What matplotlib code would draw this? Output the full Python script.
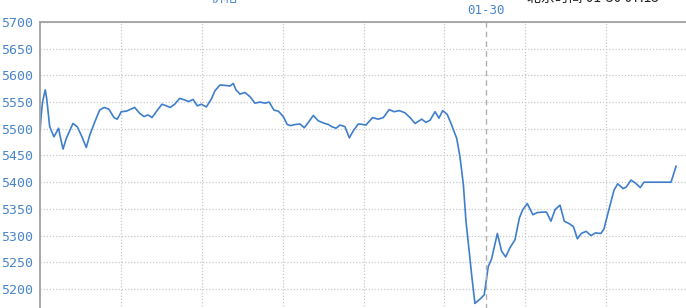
import matplotlib.pyplot as plt

# hours since chart start, price
hours = [0.0, 0.06, 0.13, 0.26, 0.33, 0.40, 0.48, 0.69, 0.92, 1.02,
         1.14, 1.30, 1.63, 1.84, 2.04, 2.29, 2.46, 2.71, 2.95, 3.17,
         3.40, 3.66, 3.82, 4.02, 4.27, 4.68, 4.93, 5.14, 5.34, 5.54,
         5.75, 6.03, 6.25, 6.44, 6.66, 6.91, 7.16, 7.35, 7.57, 7.78,
         7.98, 8.23, 8.49, 8.65, 8.90, 9.23, 9.40, 9.56, 9.69, 9.89,
         10.14, 10.39, 10.63, 10.88, 11.13, 11.34, 11.57, 11.79, 12.03, 12.23,
         12.40, 12.61, 12.86, 13.07, 13.27, 13.52, 13.76, 14.01, 14.26, 14.43,
         14.64, 14.84, 15.08, 15.30, 15.49, 15.74, 15.99, 16.12, 16.45, 16.73,
         16.98, 17.27, 17.51, 17.77, 18.05, 18.30, 18.55, 18.88, 19.09, 19.29,
         19.54, 19.73, 19.92, 20.14, 20.36, 20.61, 20.77, 20.94, 21.07, 21.23,
         21.35, 21.51, 21.76, 21.97, 22.17, 22.34, 22.62, 22.83, 23.03, 23.24,
         23.49, 23.71, 23.87, 24.10, 24.38, 24.58, 24.89, 25.05, 25.27, 25.48,
         25.72, 25.93, 26.19, 26.38, 26.58, 26.77, 27.01, 27.25, 27.47, 27.74,
         27.89, 28.14, 28.39, 28.57, 28.84, 29.00, 29.23, 29.46, 29.69, 29.87,
         30.40, 30.90, 31.21, 31.46]
price = [5495, 5526, 5551, 5573, 5557, 5532, 5504, 5485, 5501, 5482,
         5462, 5482, 5510, 5504, 5488, 5465, 5488, 5513, 5535, 5540,
         5537, 5521, 5518, 5532, 5533, 5540, 5529, 5523, 5526, 5521,
         5532, 5546, 5543, 5540, 5546, 5557, 5554, 5551, 5555, 5543,
         5546, 5541, 5557, 5571, 5582, 5581, 5580, 5585, 5573, 5565,
         5568, 5560, 5548, 5550, 5548, 5550, 5535, 5533, 5523, 5508,
         5506, 5508, 5509, 5502, 5512, 5525, 5515, 5511, 5508, 5504,
         5501, 5507, 5504, 5483, 5496, 5509, 5508, 5507, 5521, 5518,
         5521, 5536, 5532, 5534, 5530, 5521, 5510, 5518, 5512, 5516,
         5532, 5520, 5534, 5527, 5507, 5482, 5448, 5395, 5326, 5270,
         5226, 5173, 5181, 5189, 5242, 5257, 5304, 5271, 5260, 5277,
         5292, 5333, 5348, 5360, 5339, 5343, 5344, 5344, 5327, 5349,
         5357, 5327, 5322, 5317, 5294, 5304, 5308, 5300, 5305, 5304,
         5312, 5349, 5385, 5397, 5388, 5391, 5404, 5398, 5390, 5400,
         5400, 5400, 5400, 5430]

y_ticks = [5200, 5250, 5300, 5350, 5400, 5450, 5500, 5550, 5600, 5650, 5700]
x_grid = [4, 8, 12, 16, 20, 24, 28, 32]
day_mark = 22.06
day_label = '01-30'

blue = '#4a86c8'
fig = plt.figure(figsize=(6.86, 3.08), dpi=100)
ax = fig.add_axes([40 / 686, -0.025, 647 / 686, 0.9536])

ax.plot(hours, price, color='#3f7ecb', lw=1.2)

ax.set_xlim(0, 32)
ax.set_ylim(5150, 5700)
ax.set_yticks(y_ticks)
ax.set_xticks(x_grid)
ax.set_xticklabels([])
ax.tick_params(length=0, pad=5)
for lbl in ax.get_yticklabels():
    lbl.set_fontfamily('DejaVu Sans Mono')
    lbl.set_fontsize(9.5)
    lbl.set_color(blue)
ax.grid(True, color='#c8c8c8', linestyle=(0, (1, 1.5)), lw=0.9)

for s in ['right', 'bottom']:
    ax.spines[s].set_visible(False)
for s in ['left', 'top']:
    ax.spines[s].set_color('#a0a0a0')
    ax.spines[s].set_linewidth(1.3)

ax.axvline(day_mark, color='#b0b0b0', lw=1, linestyle=(0, (4, 3)))
ax.text(day_mark, 1.018, day_label, transform=ax.get_xaxis_transform(),
        ha='center', va='bottom', fontsize=9, color=blue,
        fontfamily='DejaVu Sans Mono')

# clipped header texts
fig.text(224 / 686, 0.984, '价格', ha='center', va='bottom', fontsize=10,
         color=blue, family=['Noto Sans CJK SC', 'DejaVu Sans'])
fig.text(527 / 686, 0.984, '北京时间 01-30 07:15', ha='left', va='bottom',
         fontsize=10, color='#222222', family=['Noto Sans CJK SC', 'DejaVu Sans'])

fig.savefig('out.png', dpi=100)
